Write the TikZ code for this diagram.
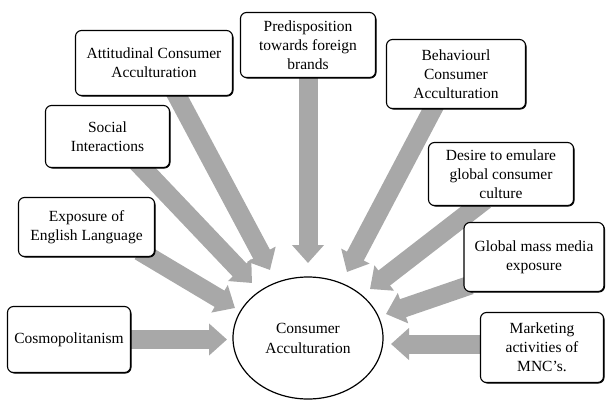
\documentclass[tikz,border=0pt]{standalone}
\usepackage{fontspec}
\setmainfont{Liberation Serif}
\usetikzlibrary{arrows.meta,shapes.geometric,shadows,backgrounds}
\definecolor{fatgray}{HTML}{A8A8A8}
\begin{document}
\begin{tikzpicture}[x=1pt,y=-1pt,
  factor/.style={draw, line width=1.1pt, rounded corners=6pt, fill=white,
    align=center, inner sep=2pt, font=\fontsize{15.5}{19}\selectfont,
    drop shadow={shadow xshift=1pt, shadow yshift=-1pt, fill=black, opacity=1}},
  centre/.style={draw, ellipse, line width=1.2pt, fill=white, align=center,
    minimum width=150pt, minimum height=122pt, font=\fontsize{15.5}{20}\selectfont},
  flow/.style={draw=fatgray, line width=19pt, -{Triangle[length=18pt,width=31pt]}}
]
\useasboundingbox (0,0) rectangle (606,400);

% factor boxes
\node[factor, minimum width=157pt, minimum height=65pt] (att) at (154,63)
  {Attitudinal Consumer\\Acculturation};
\node[factor, minimum width=135pt, minimum height=65pt] (pre) at (308,45)
  {Predisposition\\towards foreign\\brands};
\node[factor, minimum width=139pt, minimum height=69pt] (beh) at (456,74)
  {Behaviourl\\Consumer\\Acculturation};
\node[factor, minimum width=124pt, minimum height=62pt] (soc) at (107.5,136.5)
  {Social\\Interactions};
\node[factor, minimum width=145pt, minimum height=63pt] (des) at (501,174)
  {Desire to emulare\\global consumer\\culture};
\node[factor, minimum width=136pt, minimum height=59pt] (eng) at (86.5,227)
  {Exposure of\\English Language};
\node[factor, minimum width=140pt, minimum height=69pt] (glo) at (534,257)
  {Global mass media\\exposure};
\node[factor, minimum width=123pt, minimum height=66pt] (cos) at (69,339.5)
  {Cosmopolitanism};
\node[factor, minimum width=123pt, minimum height=70pt] (mkt) at (542,347.5)
  {Marketing\\activities of\\MNC's.};

% central concept
\node[centre] (con) at (308,338) {Consumer\\Acculturation};

% arrow tips in front of the central ellipse
\coordinate (tatt) at (270,270);
\coordinate (tpre) at (308,263);
\coordinate (tbeh) at (347,272);
\coordinate (tsoc) at (252,283);
\coordinate (tdes) at (370,289);
\coordinate (teng) at (235,308);
\coordinate (tglo) at (386,314);
\coordinate (tcos) at (227,339.5);
\coordinate (tmkt) at (391,344);

% fat grey arrows behind the boxes
\begin{scope}[on background layer]
  \draw[flow] ([xshift=20pt,yshift=6pt]att.south) -- (tatt);
  \draw[flow] ([yshift=6pt]pre.south) -- (tpre);
  \draw[flow] ([xshift=-20pt,yshift=6pt]beh.south) -- (tbeh);
  \draw[flow] ([xshift=29.5pt,yshift=6pt]soc.south) -- (tsoc);
  \draw[flow] ([xshift=-16pt,yshift=6pt]des.south) -- (tdes);
  \draw[flow] ([xshift=53pt,yshift=6pt]eng.south) -- (teng);
  \draw[flow] ([xshift=7pt,yshift=-28pt]glo.west) -- (tglo);
  \draw[flow] ([xshift=-5pt]cos.east) -- (tcos);
  \draw[flow] ([xshift=5pt,yshift=3.5pt]mkt.west) -- (tmkt);
\end{scope}
\end{tikzpicture}
\end{document}
